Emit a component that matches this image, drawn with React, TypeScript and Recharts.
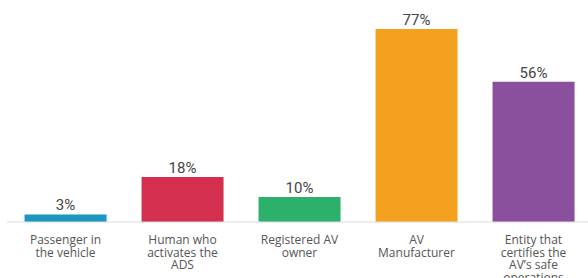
import { BarChart, Bar, XAxis, YAxis, Cell, LabelList } from 'recharts'

const categories = [
  'Passenger in\nthe vehicle',
  'Human who\nactivates the\nADS',
  'Registered AV\nowner',
  'AV\nManufacturer',
  'Entity that\ncertifies the\nAV\u2019s safe\noperations',
]
const values = [3, 18, 10, 77, 56]
const colors = ['#1b98c0', '#d52f50', '#2db06c', '#f4a11f', '#8a4f9d']

const data = categories.map((name, i) => ({ name, value: values[i], color: colors[i] }))

function Tick({ x, y, payload }: any) {
  const lines = String(payload.value).split('\n')
  return (
    <text
      x={x}
      y={y}
      textAnchor="middle"
      fill="#555"
      fontSize={12}
      fontFamily="'Open Sans', sans-serif"
    >
      {lines.map((l, i) => (
        <tspan key={i} x={x} dy={i === 0 ? 14 : 12.5}>
          {l}
        </tspan>
      ))}
    </text>
  )
}

export default function App() {
  return (
    <div style={{ position: 'absolute', left: 0, top: 0, width: 588, height: 278, overflow: 'hidden', background: '#fff' }}>
      <BarChart
        width={592}
        height={278}
        data={data}
        margin={{ top: 29, right: 0, bottom: 0, left: 7 }}
        barCategoryGap="15%"
      >
        <XAxis
          dataKey="name"
          interval={0}
          tickLine={false}
          height={56}
          axisLine={{ stroke: '#dcdcdc' }}
          tick={<Tick />}
        />
        <YAxis hide domain={[0, 77]} />
        <Bar dataKey="value" isAnimationActive={false}>
          {data.map((d) => (
            <Cell key={d.name} fill={d.color} />
          ))}
          <LabelList
            dataKey="value"
            position="top"
            offset={4}
            formatter={(v: any) => `${v}%`}
            fill="#444"
            fontSize={15}
            fontFamily="Roboto, sans-serif"
          />
        </Bar>
      </BarChart>
    </div>
  )
}
